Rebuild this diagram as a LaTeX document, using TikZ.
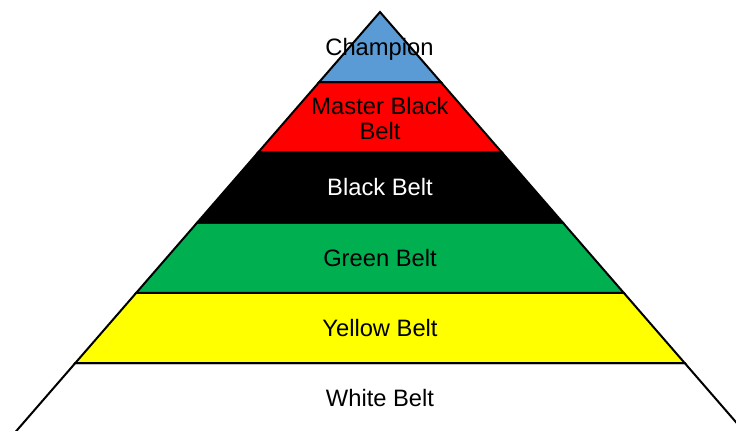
\documentclass[tikz,border=0pt]{standalone}
\usepackage{fontspec}
\setmainfont{Liberation Sans}
\definecolor{champblue}{HTML}{5B9BD5}
\definecolor{beltred}{HTML}{FF0000}
\definecolor{beltgreen}{HTML}{00B050}
\definecolor{beltyellow}{HTML}{FFFF00}
\begin{document}
\begin{tikzpicture}[x=0.75pt,y=-0.75pt,
  band/.style={draw=black,line width=1.5pt,line join=miter},
  lbl/.style={font=\fontsize{17.8}{18.3}\selectfont,align=center,inner sep=0pt}]
\useasboundingbox (0,0) rectangle (736,430);
\clip (0,0) rectangle (736,430);
% bands
\path[band,fill=white] (75.33,363) -- (684.67,363) -- (745.6,433.2) -- (14.4,433.2) -- cycle;
\path[band,fill=beltyellow] (136.27,292.8) -- (623.73,292.8) -- (684.67,363) -- (75.33,363) -- cycle;
\path[band,fill=beltgreen] (197.2,222.6) -- (562.8,222.6) -- (623.73,292.8) -- (136.27,292.8) -- cycle;
\path[band,fill=black] (258.13,152.4) -- (501.87,152.4) -- (562.8,222.6) -- (197.2,222.6) -- cycle;
\path[band,fill=beltred] (319.07,82.2) -- (440.93,82.2) -- (501.87,152.4) -- (258.13,152.4) -- cycle;
\path[band,fill=champblue] (380,12) -- (440.93,82.2) -- (319.07,82.2) -- cycle;
% labels
\node[lbl,anchor=base] (champion) at (379.5,55) {Champion};
\node[lbl] (master) at (380,118.5) {Master Black\\Belt};
\node[lbl,anchor=base,text=white] (black) at (380,195.8) {Black Belt};
\node[lbl,anchor=base] (green) at (380,266) {Green Belt};
\node[lbl,anchor=base] (yellow) at (380,336.2) {Yellow Belt};
\node[lbl,anchor=base] (white) at (380,406.4) {White Belt};
\end{tikzpicture}
\end{document}
